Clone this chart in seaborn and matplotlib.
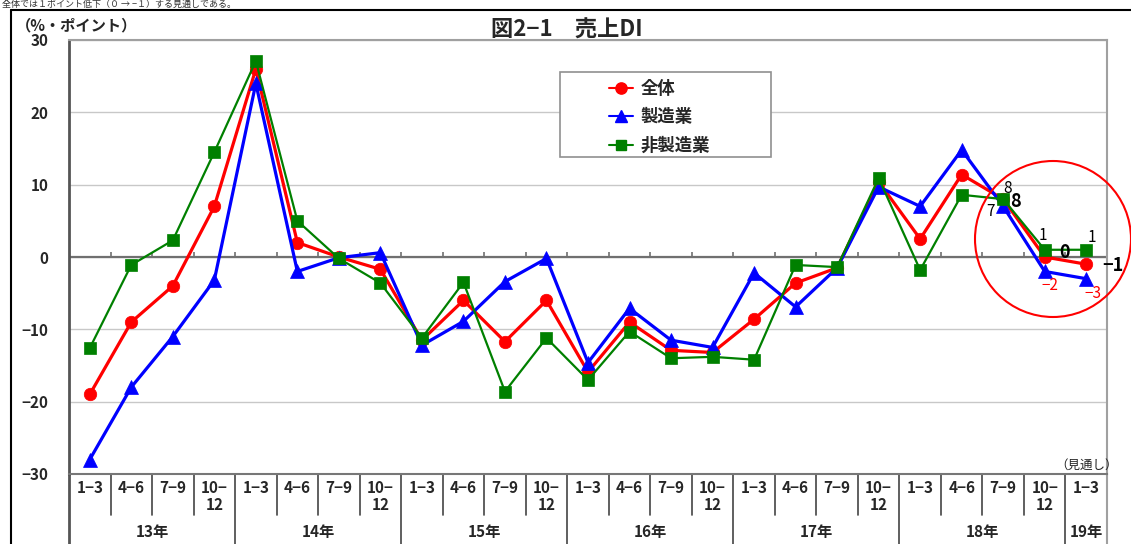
import numpy as np
import pandas as pd
import matplotlib
matplotlib.use("Agg")
import matplotlib.pyplot as plt
import matplotlib.transforms as mtransforms
from matplotlib.patches import Ellipse
from matplotlib.lines import Line2D
import seaborn as sns

# ---- data -------------------------------------------------------------
quarters = ["1−3", "4−6", "7−9", "10−\n12"] * 6 + ["1−3"]
years = ["13年", "14年", "15年", "16年", "17年", "18年", "19年"]
year_spans = [4, 4, 4, 4, 4, 4, 1]

total = [-19, -9, -4, 7, 26, 2, 0, -1.7, -11.5, -6, -11.7, -6, -15.9, -9,
         -12.9, -13.2, -8.6, -3.6, -1.5, 10.4, 2.5, 11.4, 8, 0, -1]
manufacturing = [-28, -18, -11, -3.2, 24, -2, -0.1, 0.6, -12.2, -8.9, -3.4,
                 -0.2, -14.6, -7.1, -11.5, -12.5, -2.2, -6.9, -1.5, 9.7, 7,
                 14.8, 7, -2, -3]
non_manufacturing = [-12.6, -1.1, 2.3, 14.5, 27.1, 5, -0.2, -3.6, -11.2, -3.5,
                     -18.6, -11.2, -17, -10.3, -14, -13.8, -14.2, -1.1, -1.4,
                     10.9, -1.8, 8.6, 8, 1, 1]

series_names = ["全体", "製造業", "非製造業"]

W, H = 1131, 544

sns.set_theme(style="white")
plt.rcParams["font.family"] = ["Noto Sans CJK JP", "DejaVu Sans"]
plt.rcParams["axes.unicode_minus"] = True

df = pd.DataFrame({"idx": np.arange(len(quarters)),
                   "全体": total, "製造業": manufacturing, "非製造業": non_manufacturing})
long = df.melt(id_vars="idx", var_name="系列", value_name="DI")

fig = plt.figure(figsize=(W / 100, H / 100), dpi=100)
fig.patch.set_facecolor("white")

# plot area in pixel terms
x0, x1, y_top, y_bot = 69, 1107, 40, 474
ax = fig.add_axes([x0 / W, 1 - y_bot / H, (x1 - x0) / W, (y_bot - y_top) / H])

styles = {
    "全体": dict(color="#ff0000", marker="o", lw=2.3, ms=9),
    "製造業": dict(color="#0000ff", marker="^", lw=2.3, ms=9.5),
    "非製造業": dict(color="#008000", marker="s", lw=1.6, ms=8),
}

ax.grid(axis="y", color="#c8c8c8", lw=1.0)
ax.set_axisbelow(True)
ax.axhline(0, color="#707070", lw=1.6, zorder=1.5)
ax.vlines(np.arange(0.5, len(quarters) - 1), 0, 0.7, color="#707070", lw=1.2, zorder=1.5)

for name in series_names:
    st = styles[name]
    sns.lineplot(data=long[long["系列"] == name], x="idx", y="DI", ax=ax,
                 color=st["color"], marker=st["marker"], linewidth=st["lw"],
                 markersize=st["ms"], markeredgecolor=st["color"],
                 markeredgewidth=0.5, legend=False, zorder=3)

ax.set_xlim(-0.5, len(quarters) - 0.5)
ax.set_ylim(-30, 30)
ax.set_yticks(np.arange(-30, 31, 10))
ax.set_yticklabels([f"{v}".replace("-", "−") for v in range(-30, 31, 10)],
                   fontsize=11, fontweight="bold")
ax.tick_params(axis="y", length=0, pad=15)
ax.set_xticks([])
ax.set_xlabel("")
ax.set_ylabel("")

for side in ["top", "right"]:
    ax.spines[side].set_color("#a0a0a0")
    ax.spines[side].set_linewidth(1.5)
ax.spines["left"].set_color("#555555")
ax.spines["left"].set_linewidth(2)
ax.spines["bottom"].set_color("#777777")
ax.spines["bottom"].set_linewidth(1.5)

# ---- category table under the plot -------------------------------------
ph = y_bot - y_top
blend = mtransforms.blended_transform_factory(ax.transData, ax.transAxes)
q_depth = -41 / ph
y_depth = -(H - y_bot + 2) / ph
year_edges = np.cumsum(year_spans) - 0.5
for b in np.arange(0.5, len(quarters) - 1):
    bottom = y_depth if np.any(np.isclose(year_edges, b)) else q_depth
    ax.plot([b, b], [0, bottom], transform=blend, color="#444444", lw=1.2, clip_on=False)
for xa, c, lw in [(0, "#555555", 2), (1, "#a0a0a0", 1.5)]:
    ax.plot([xa, xa], [0, y_depth], transform=ax.transAxes, color=c, lw=lw, clip_on=False)

for i, q in enumerate(quarters):
    ax.text(i, -(480 - y_bot) / ph, q, transform=blend, ha="center", va="top",
            fontsize=11, fontweight="bold", linespacing=1.1)

start = 0
for yr, span in zip(years, year_spans):
    ax.text(start + (span - 1) / 2, -(532 - y_bot) / ph, yr, transform=blend,
            ha="center", va="center", fontsize=11, fontweight="bold")
    start += span

ax.text(len(quarters) - 1, -(-9) / ph, "（見通し）", transform=blend, ha="center",
        va="center", fontsize=9, color="#222222")

# ---- value labels on the latest points ---------------------------------
def fmt(v):
    return f"{v:.0f}".replace("-", "−")

n = len(quarters)
labels = [
    (n - 3, non_manufacturing[n - 3], (3, 8), "black", 11, "normal"),
    (n - 3, total[n - 3], (9, -2), "black", 13, "bold"),
    (n - 3, manufacturing[n - 3], (-9, -4), "black", 11, "normal"),
    (n - 2, non_manufacturing[n - 2], (-1, 10), "black", 11, "normal"),
    (n - 2, total[n - 2], (14, 3), "black", 13, "bold"),
    (n - 2, manufacturing[n - 2], (4, -10), "#ff0000", 11, "normal"),
    (n - 1, non_manufacturing[n - 1], (4, 9), "black", 11, "normal"),
    (n - 1, total[n - 1], (19, -1), "black", 13, "bold"),
    (n - 1, manufacturing[n - 1], (5, -11), "#ff0000", 11, "normal"),
]
for xi, v, off, col, fs, fw in labels:
    ax.annotate(fmt(v), (xi, v), xytext=off, textcoords="offset points",
                ha="center", va="center", fontsize=fs, fontweight=fw, color=col,
                annotation_clip=False, zorder=5)

# ---- legend -------------------------------------------------------------
handles = [Line2D([], [], color=styles[s]["color"], marker=styles[s]["marker"],
                  lw=1.5, markersize=styles[s]["ms"] * 0.9) for s in series_names]
fig.add_artist(plt.Rectangle((560 / W, 1 - 157 / H), (771 - 560) / W, (157 - 72) / H,
                             transform=fig.transFigure, fill=True, facecolor="white",
                             edgecolor="#909090", lw=1.2, zorder=4))
leg = fig.legend(handles, series_names, loc="upper left",
                 bbox_to_anchor=(602 / W, 1 - 73 / H), bbox_transform=fig.transFigure,
                 frameon=False, handlelength=1.4, handletextpad=0.4,
                 labelspacing=0.6, borderaxespad=0,
                 prop=dict(size=12.5, weight="bold"))
leg.set_zorder(5)

# ---- titles and frame ----------------------------------------------------
fig.text(567 / W, 1 - 30 / H, "図2−1　売上DI", ha="center", va="center",
         fontsize=16, fontweight="bold")
fig.text(77 / W, 1 - 25 / H, "（%・ポイント）", ha="center", va="center",
         fontsize=11, fontweight="bold")
fig.text(2 / W, 1 - 4 / H, "全体では１ポイント低下（０ → −１）する見通しである。",
         ha="left", va="center", fontsize=6.5, color="#333333")

fig.add_artist(Line2D([11 / W, 11 / W], [0, 1 - 10 / H], transform=fig.transFigure,
                      color="black", lw=1.5))
fig.add_artist(Line2D([11 / W, 1], [1 - 10 / H, 1 - 10 / H], transform=fig.transFigure,
                      color="black", lw=1.5))

fig.add_artist(Ellipse((1053 / W, 1 - 239 / H), 156 / W, 156 / H, transform=fig.transFigure,
                       fill=False, edgecolor="#ff0000", lw=1.5, zorder=6))

fig.savefig("out.png", dpi=100, facecolor="white")
